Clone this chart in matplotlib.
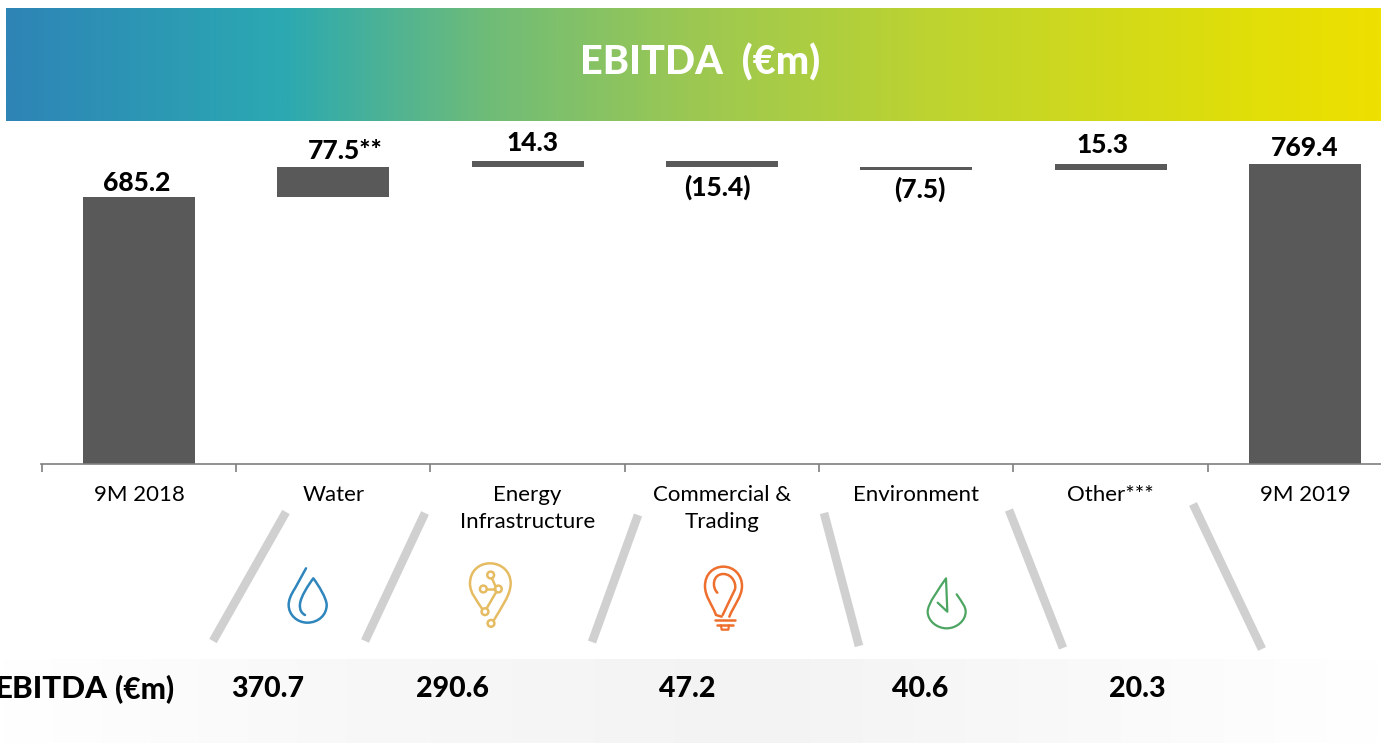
import numpy as np
import matplotlib
matplotlib.use('Agg')
import matplotlib.pyplot as plt
from matplotlib.colors import LinearSegmentedColormap
from matplotlib.path import Path
from matplotlib.patches import PathPatch, Circle

plt.rcParams['font.family'] = ['Lato', 'DejaVu Sans']

# Datos del grafico
categories = ['9M 2018', 'Water', 'Energy\nInfrastructure', 'Commercial &\nTrading',
              'Environment', 'Other***', '9M 2019']
start_value = 685.2
deltas = [77.5, 14.3, -15.4, -7.5, 15.3]
end_value = 769.4
bar_labels = ['685.2', '77.5**', '14.3', '(15.4)', '(7.5)', '15.3', '769.4']
row_values = ['370.7', '290.6', '47.2', '40.6', '20.3']

# Desplazamiento de las etiquetas respecto a cada barra (pixeles)
label_dx = [-2, 12, 5, -5, 3, -8, 0]
label_dy = [14, 16, 18, 20, 19, 19, 16]
row_x = [268, 453, 687, 920, 1137]

W, H = 1381, 743
BAR = '#595959'

fig = plt.figure(figsize=(W / 100, H / 100), dpi=100, facecolor='white')

# Capa de fondo en pixeles
bg = fig.add_axes([0, 0, 1, 1])
bg.axis('off')

# Banda de titulo con degradado
header_cmap = LinearSegmentedColormap.from_list('header', [
    (0.00, '#2E84B6'), (0.20, '#2BA9B2'), (0.35, '#6FBC78'), (0.50, '#9CC852'),
    (0.70, '#C2D52B'), (0.90, '#E0DE0A'), (1.00, '#EEE000')])
bg.imshow(np.linspace(0, 1, 512).reshape(1, -1), cmap=header_cmap, aspect='auto',
          extent=[6, W, 121, 8], zorder=1)

# Banda inferior gris
row_cmap = LinearSegmentedColormap.from_list('row', [
    (0.00, '#FFFFFF'), (0.25, '#F8F8F8'), (0.55, '#F3F3F3'), (0.85, '#FBFBFB'), (1.00, '#FFFFFF')])
bg.imshow(np.linspace(0, 1, 512).reshape(1, -1), cmap=row_cmap, aspect='auto',
          extent=[0, W, H, 659], zorder=1)
bg.set_xlim(0, W)
bg.set_ylim(H, 0)

bg.text(700, 62, 'EBITDA  (€m)', color='white', fontsize=28.5, fontweight='black',
        ha='center', va='center', zorder=3)

# Separadores inclinados
slashes = [((286, 512), (213, 641)), ((425, 513), (365, 641)), ((638, 515), (592, 642)),
           ((824, 513), (859, 646)), ((1009, 510), (1063, 648)), ((1193, 504), (1262, 649))]
for a, b in slashes:
    bg.plot([a[0], b[0]], [a[1], b[1]], color='#D0D0D0', lw=6.2, solid_capstyle='butt', zorder=2)


# segs: cada tramo es un punto (recta) o tres puntos (bezier)
def stroke(start, segs, color, ox, oy, lw=1.8):
    verts = [start]
    codes = [Path.MOVETO]
    for s in segs:
        verts.extend(s)
        codes.extend([Path.LINETO] if len(s) == 1 else [Path.CURVE4] * 3)
    pts = [(ox + x / 3, oy + y / 3) for x, y in verts]
    bg.add_patch(PathPatch(Path(pts, codes), fill=False, edgecolor=color, lw=lw,
                           capstyle='round', joinstyle='round', zorder=3))


# Icono agua
BLUE = '#2F86BC'
stroke((318, 205), [[(285, 265)],
                    [(272, 285), (266, 300), (266, 315)],
                    [(266, 345), (292, 368), (322, 368)],
                    [(355, 368), (380, 345), (380, 315)],
                    [(380, 295), (355, 255), (340, 235)],
                    [(325, 255), (302, 290), (300, 312)],
                    [(298, 330), (305, 340), (315, 345)]], BLUE, 200, 500)

# Icono energia
GOLD = '#E6BC62'
stroke((846, 326), [[(830, 300), (810, 280), (810, 250)],
                    [(810, 215), (835, 190), (870, 190)],
                    [(905, 190), (932, 215), (932, 250)],
                    [(932, 285), (905, 320), (882, 360)]], GOLD, 200, 500)
for p, q in [((876, 235), (886, 258)), ((860, 267), (885, 267)), ((888, 277), (860, 325))]:
    stroke(p, [[q]], GOLD, 200, 500)
for cx, cy in [(872, 225), (850, 267), (895, 267), (855, 335), (873, 370)]:
    bg.add_patch(Circle((200 + cx / 3, 500 + cy / 3), 3.4, fill=False, edgecolor=GOLD, lw=1.8, zorder=3))

# Icono comercial
ORANGE = '#EE6F2D'
stroke((245, 350), [[(228, 345)],
                    [(215, 310), (195, 290), (195, 258)],
                    [(195, 222), (220, 200), (250, 200)],
                    [(282, 200), (306, 225), (306, 258)],
                    [(306, 290), (282, 315), (268, 350)]], ORANGE, 640, 500)
stroke((232, 278), [[(215, 262), (218, 222), (250, 222)],
                    [(280, 222), (292, 258), (283, 272)],
                    [(248, 345)]], ORANGE, 640, 500)
stroke((225, 360), [[(285, 360)]], ORANGE, 640, 500)
stroke((232, 374), [[(278, 374)]], ORANGE, 640, 500)
stroke((243, 376), [[(245, 389)], [(265, 389)], [(267, 376)]], ORANGE, 640, 500, 1.6)

# Icono medio ambiente
GREEN = '#4CA561'
stroke((950, 283), [[(968, 310), (977, 320), (977, 335)],
                    [(977, 362), (950, 385), (920, 385)],
                    [(890, 385), (863, 362), (863, 335)],
                    [(863, 310), (900, 262), (918, 235)],
                    [(922, 335)], [(893, 308)]], GREEN, 640, 500, 1.6)

# Fila inferior
bg.text(-5, 689, 'EBITDA', fontsize=22.5, fontweight='black', color='black', ha='left', va='center', zorder=3)
bg.text(115, 690, '(€m)', fontsize=21.5, fontweight='black', color='black', ha='left', va='center', zorder=3)
for x, v in zip(row_x, row_values):
    bg.text(x, 689, v, fontsize=20.5, fontweight='black', color='black', ha='center', va='center', zorder=3)

# Cascada
px_left, px_right, px_base, px_top = 41, W, 464, 121
ax = fig.add_axes([px_left / W, 1 - px_base / H, (px_right - px_left) / W, (px_base - px_top) / H])
ax.patch.set_alpha(0)
step = 194.33
ax.set_xlim(-(139 - px_left) / step, (px_right - 139) / step)
ax.set_ylim(0, 880)

levels = np.cumsum([start_value] + deltas)
bottoms = [0] + [min(levels[i], levels[i + 1]) for i in range(len(deltas))] + [0]
heights = [start_value] + [abs(d) for d in deltas] + [end_value]
xs = np.arange(len(categories))
ax.bar(xs, heights, bottom=bottoms, width=112 / step, color=BAR)

for i, lab in enumerate(bar_labels):
    below = lab.startswith('(')
    y = bottoms[i] if below else bottoms[i] + heights[i]
    ax.annotate(lab, (xs[i], y), xytext=(label_dx[i], -label_dy[i] if below else label_dy[i]),
                textcoords='offset pixels', ha='center', va='center',
                fontsize=19, fontweight='black', color='black')

for s in ['top', 'left', 'right']:
    ax.spines[s].set_visible(False)
ax.spines['bottom'].set_color('#7F7F7F')
ax.spines['bottom'].set_linewidth(1.2)
ax.set_yticks([])
ax.set_xticks(xs - 0.5, labels=[''] * len(xs))
ax.tick_params(axis='x', which='major', length=6, width=1.2, color='#7F7F7F')
ax.set_xticks(xs, labels=categories, minor=True)
ax.tick_params(axis='x', which='minor', length=0, pad=15, labelsize=16, labelcolor='black')
for t in ax.get_xticklabels(minor=True):
    t.set_linespacing(1.45)

fig.savefig('out.png', dpi=100)
